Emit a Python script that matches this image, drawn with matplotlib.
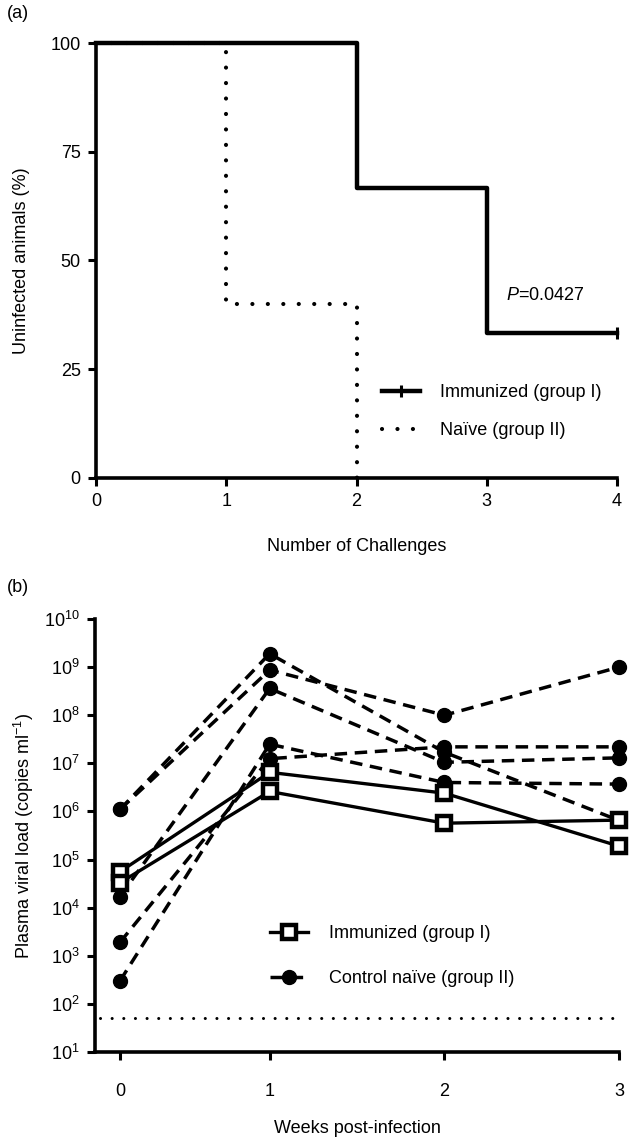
import numpy as np
import matplotlib
matplotlib.use("Agg")
import matplotlib.pyplot as plt
from matplotlib.lines import Line2D

plt.rcParams['font.family'] = ['Liberation Sans', 'DejaVu Sans']
plt.rcParams['mathtext.fontset'] = 'custom'
plt.rcParams['mathtext.rm'] = 'Liberation Sans'
plt.rcParams['mathtext.it'] = 'Liberation Sans:italic'
plt.rcParams['font.size'] = 13

# ---- panel (a): survival data ----
challenges = [0, 1, 2, 3, 4]
immunized_t = [0, 2, 3, 4]
immunized_pct = [100, 66.67, 33.33, 33.33]
naive_t = [0, 1, 2]
naive_pct = [100, 40, 0]
p_value = "0.0427"

# ---- panel (b): viral load ----
sample_day = [1, 7, 14, 21]
week_labels = ["0", "1", "2", "3"]
immunized_vl = [
    [5.6e4, 6.5e6, 2.4e6, 1.9e5],
    [3.3e4, 2.6e6, 5.7e5, 6.6e5],
]
control_vl = [
    [1.1e6, 1.9e9, 1.7e7, 6.5e5],
    [1.1e6, 8.7e8, 1.0e8, 1.0e9],
    [1.7e4, 3.6e8, 1.05e7, 1.3e7],
    [3.0e2, 2.5e7, 4.0e6, 3.7e6],
    [1.9e3, 1.25e7, 2.2e7, 2.2e7],
]
detection_limit = 50

fig = plt.figure(figsize=(6.3, 11.37), dpi=100)

def style_axes(ax):
    for s in ['top', 'right']:
        ax.spines[s].set_visible(False)
    for s in ['left', 'bottom']:
        ax.spines[s].set_linewidth(2.6)
    ax.tick_params(which='major', direction='out', length=6, width=2.2, pad=5)

# ================= (a) =================
ax1 = fig.add_axes([96/630, 1-478/1137, 521/630, 435/1137])
style_axes(ax1)
dot_style = (0, (0.01, 3.7))
ax1.step(naive_t, naive_pct, where='post', color='black', lw=3,
         linestyle=dot_style, dash_capstyle='round', clip_on=False, zorder=2)
ax1.step(immunized_t, immunized_pct, where='post', color='black', lw=3.2,
         clip_on=False, zorder=3)
ax1.plot([immunized_t[-1]], [immunized_pct[-1]], marker='|', ms=9, mew=2.2,
         color='black', clip_on=False, zorder=4)
ax1.set_xlim(0, 4)
ax1.set_ylim(0, 100)
ax1.set_xticks(challenges)
ax1.set_yticks([0, 25, 50, 75, 100])
ax1.set_xlabel("Number of Challenges", labelpad=20)
ax1.set_ylabel("Uninfected animals (%)", labelpad=15)
ax1.text(3.15, 42, r"$P$=" + p_value, ha='left', va='center')

h1 = Line2D([0, 1], [0, 0], color='black', lw=3.2, marker='|', ms=9, mew=2.2,
            markevery=[1])
h2 = Line2D([], [], color='black', lw=3, linestyle=dot_style,
            dash_capstyle='round')
ax1.legend([h1, h2], ["Immunized (group I)", "Naïve (group II)"],
           loc='center left', bbox_to_anchor=(0.535, 0.152),
           frameon=False, handlelength=2.1, handletextpad=1.1,
           labelspacing=1.15, borderaxespad=0)

fig.text(18/630, 1-13/1137, "(a)", ha='center', va='center', fontsize=13)

# ================= (b) =================
ax2 = fig.add_axes([95/630, 1-1052/1137, 524/630, 433/1137])
style_axes(ax2)
ax2.set_yscale('log')
ax2.tick_params(which='minor', direction='out', length=3.5, width=1.6)
ax2.tick_params(axis='x', which='minor', length=0)
ax2.tick_params(axis='x', which='major', pad=16)

dash_style = (0, (3.6, 2.2))
for vals in control_vl:
    ax2.plot(sample_day, vals, color='black', lw=2.5, linestyle=dash_style,
             marker='o', ms=10, mfc='black', mec='black', clip_on=False,
             zorder=3)
for vals in immunized_vl:
    ax2.plot(sample_day, vals, color='black', lw=2.4, marker='s', ms=9.5,
             mfc='white', mec='black', mew=3.2, clip_on=False, zorder=4)
ax2.axhline(detection_limit, xmin=0.01, xmax=1.0, color='black', lw=2.2,
            linestyle=(0, (0.01, 3.8)), dash_capstyle='round')

ax2.set_xlim(0, 21)
ax2.set_ylim(10, 1e10)
ax2.set_xticks(sample_day)
ax2.set_xticklabels(week_labels)
ax2.set_yticks([10.0 ** k for k in range(1, 11)])
ax2.set_xlabel("Weeks post-infection", labelpad=15)
ax2.set_ylabel(r"Plasma viral load (copies ml$^{-1}$)", labelpad=6)

hi = Line2D([0, 1], [0, 0], color='black', lw=2.4, marker='s', ms=9.5,
            mfc='white', mec='black', mew=3.2, markevery=[0])
hc = Line2D([0, 1], [0, 0], color='black', lw=2.5, linestyle=dash_style,
            marker='o', ms=10)
ax2.legend([hi, hc], ["Immunized (group I)", "Control naïve (group II)"],
           loc='center left', bbox_to_anchor=(0.32, 0.222), frameon=False,
           handlelength=2.1, handletextpad=1.2, labelspacing=1.55,
           borderaxespad=0, numpoints=1)

fig.text(18/630, 1-587/1137, "(b)", ha='center', va='center', fontsize=13)

fig.savefig("out.png", dpi=100)
